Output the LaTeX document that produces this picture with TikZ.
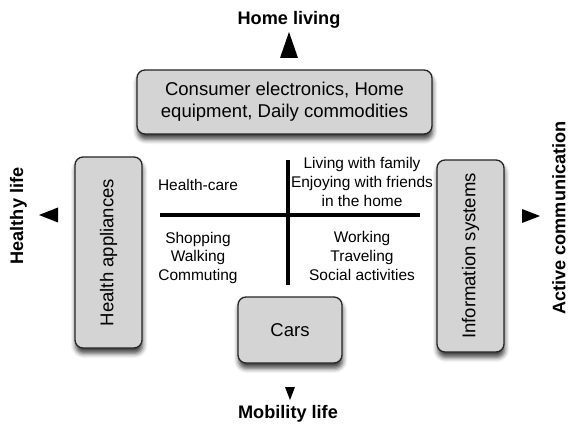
\documentclass[tikz,border=0pt]{standalone}
\usepackage{fontspec}
\setmainfont{Liberation Sans}
\usetikzlibrary{positioning,shadows.blur}

\tikzset{
  px/.style={x=0.75pt,y=-0.75pt},
  device/.style={draw=black!85, line width=1pt, fill=black!17, rounded corners=6pt,
    inner sep=0pt, align=center, font=\fontsize{13.9}{16.5}\selectfont,
    blur shadow={shadow xshift=0.5pt, shadow yshift=-4pt, shadow blur radius=3.5pt, shadow opacity=75}},
  usage/.style={align=center, inner sep=0pt, font=\fontsize{11.6}{13.9}\selectfont},
  lifestyle/.style={inner sep=0pt, font=\fontsize{13.6}{16}\selectfont\bfseries},
  divider/.style={line width=3pt},
}

\begin{document}
\begin{tikzpicture}[px]
  \useasboundingbox (0,0) rectangle (568,424);

  \node[device, minimum width=221.25pt, minimum height=48pt] (home) at (284.5,102)
    {Consumer electronics, Home\\equipment, Daily commodities};
  \fill[white] (160,146) rectangle (420,290);
  \node[device, minimum width=50.25pt, minimum height=143.25pt] (health) at (108.5,252.5)
    {\rotatebox{90}{Health appliances}};
  \node[device, minimum width=50.25pt, minimum height=144pt] (info) at (470.5,256)
    {\rotatebox{90}{Information systems}};
  \node[device, minimum width=78pt, minimum height=49.5pt] (cars) at (290,330) {Cars};

  \coordinate (m) at (288,215);
  \coordinate (w) at (160,215);
  \coordinate (e) at (420,215);
  \coordinate (n) at (288,160);
  \coordinate (s) at (288,285);
  \draw[divider] (w) -- (e);
  \draw[divider] (n) -- (s);

  \node[usage] (care) at (198,185) {Health-care};
  \node[usage] (walk) at (198,258) {Shopping\\Walking\\Commuting};
  \node[usage] (family) at (362,182) {Living with family\\Enjoying with friends\\in the home};
  \node[usage] (work) at (362,256) {Working\\Traveling\\Social activities};

  \node[lifestyle] (living) at (289,20) {Home living};
  \node[lifestyle, rotate=90] (healthy) at (18.5,216) {Healthy life};
  \node[lifestyle, rotate=90] (active) at (559,218) {Active communication};
  \node[lifestyle] (mobility) at (288,414) {Mobility life};

  \fill (289,32) -- (280,58) -- (298,58) -- cycle;
  \fill (39,215) -- (58,207.5) -- (58,222.5) -- cycle;
  \fill (540,216) -- (522,209) -- (522,223) -- cycle;
  \fill (290,400) -- (285,387) -- (295,387) -- cycle;
\end{tikzpicture}
\end{document}
